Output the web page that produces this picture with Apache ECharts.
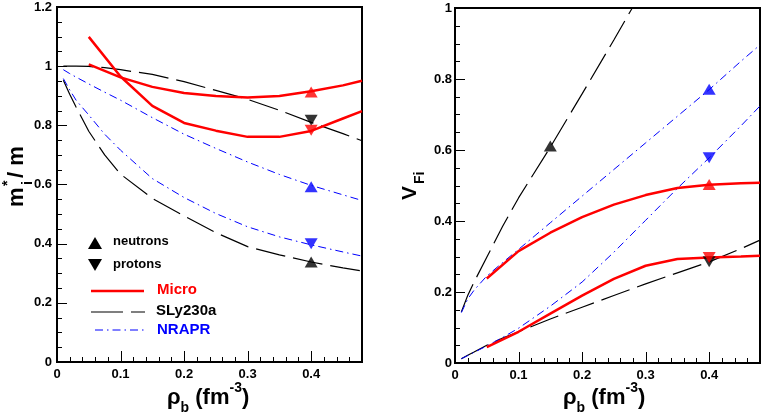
<!DOCTYPE html>
<html>
<head>
<meta charset="utf-8">
<script src="https://cdn.jsdelivr.net/npm/echarts@6/dist/echarts.min.js"></script>
<style>
  html, body { margin: 0; padding: 0; background: #fff; }
  #chart { width: 762px; height: 413px; }
</style>
</head>
<body>
<div id="chart"></div>
<script>
// baryon density grids (fm^-3)
const rhoMicro = [0.05, 0.1, 0.15, 0.2, 0.25, 0.3, 0.35, 0.4, 0.45, 0.48];
const rhoSky = [0.01, 0.02, 0.03, 0.05, 0.075, 0.1, 0.15, 0.2, 0.25, 0.3, 0.35, 0.4, 0.45, 0.48];
const rhoSlyFast = [0.01, 0.02, 0.03, 0.05, 0.075, 0.1, 0.15, 0.2, 0.25, 0.279];

// left panel : m*_i / m
const mMicroN = [1.006, 0.962, 0.930, 0.909, 0.899, 0.894, 0.899, 0.915, 0.935, 0.951];
const mMicroP = [1.099, 0.965, 0.866, 0.808, 0.782, 0.761, 0.761, 0.781, 0.823, 0.848];
const mSlyP = [1.0, 1.0, 1.0, 0.999, 0.995, 0.988, 0.972, 0.948, 0.918, 0.888, 0.851, 0.81, 0.772, 0.748];
const mSlyN = [0.952, 0.905, 0.862, 0.78, 0.70, 0.635, 0.553, 0.494, 0.437, 0.39, 0.362, 0.338, 0.318, 0.308];
const mNrN = [0.988, 0.975, 0.963, 0.94, 0.912, 0.885, 0.826, 0.77, 0.722, 0.676, 0.634, 0.597, 0.565, 0.546];
const mNrP = [0.958, 0.92, 0.885, 0.835, 0.77, 0.716, 0.62, 0.556, 0.502, 0.457, 0.423, 0.396, 0.372, 0.358];

// right panel : V_Fi
const vMicroN = [0.238, 0.315, 0.367, 0.411, 0.446, 0.473, 0.493, 0.502, 0.506, 0.508];
const vMicroP = [0.045, 0.088, 0.139, 0.19, 0.237, 0.274, 0.293, 0.297, 0.300, 0.302];
const vSlyN = [0.144, 0.19, 0.228, 0.298, 0.385, 0.465, 0.608, 0.758, 0.91, 1.0];
const vSlyP = [0.012, 0.022, 0.031, 0.05, 0.07, 0.088, 0.124, 0.157, 0.19, 0.223, 0.254, 0.285, 0.322, 0.346];
const vNrN = [0.142, 0.18, 0.205, 0.245, 0.283, 0.32, 0.395, 0.47, 0.545, 0.62, 0.695, 0.77, 0.85, 0.896];
const vNrP = [0.012, 0.021, 0.03, 0.048, 0.072, 0.098, 0.16, 0.228, 0.312, 0.402, 0.492, 0.578, 0.668, 0.724];

// triangle markers: [neutron (up), proton (down)]
const markRho = [0.4, 0.4];
const markRhoSlyR = [0.15, 0.4];
const microMarkL = [0.913, 0.783];
const slyMarkL = [0.338, 0.817];
const nrMarkL = [0.592, 0.400];
const microMarkR = [0.503, 0.297];
const slyMarkR = [0.611, 0.285];
const nrMarkR = [0.771, 0.578];

// tick labels
const xTicks = [0, 0.1, 0.2, 0.3, 0.4];

const FONT = '"Liberation Sans", Arial, Helvetica, sans-serif';
const RED = '#ff0000', BLUE = '#0000ff', BLACK = '#000000';
const DASH = [30, 8];
const DASHDOT = [8, 4, 1.5, 4];

function pairs(xs, ys) {
  return xs.map((x, i) => [x, ys[i]]);
}

function curve(xs, ys, color, width, type, panel) {
  return {
    type: 'line',
    xAxisIndex: panel,
    yAxisIndex: panel,
    data: pairs(xs, ys),
    showSymbol: false,
    symbol: 'none',
    lineStyle: { color: color, width: width, type: type },
    z: 3,
    silent: true
  };
}

function marks(xs, ys, color, panel) {
  return {
    type: 'scatter',
    xAxisIndex: panel,
    yAxisIndex: panel,
    symbol: 'triangle',
    symbolSize: [13, 11],
    itemStyle: { color: color },
    z: 5,
    silent: true,
    data: xs.map((x, i) => ({ value: [x, ys[i]], symbolRotate: i === 0 ? 0 : 180 }))
  };
}

function mainX(grid) {
  return {
    gridIndex: grid, type: 'value', min: 0, max: 0.48, interval: 0.1,
    axisLine: { show: true, onZero: false, lineStyle: { color: BLACK, width: 2 } },
    axisTick: { show: false },
    axisLabel: {
      color: BLACK, fontFamily: FONT, fontWeight: 'bold', fontSize: 13, margin: 6,
      showMaxLabel: false,
      formatter: v => (xTicks.some(t => Math.abs(t - v) < 1e-6) ? String(+v.toFixed(1)) : '')
    },
    splitLine: { show: false }
  };
}

function mainY(grid, max, margin) {
  return {
    gridIndex: grid, type: 'value', min: 0, max: max, interval: 0.2,
    axisLine: { show: true, onZero: false, lineStyle: { color: BLACK, width: 2 } },
    axisTick: { show: false },
    axisLabel: { color: BLACK, fontFamily: FONT, fontWeight: 'bold', fontSize: 13, margin: margin },
    splitLine: { show: false }
  };
}

function txt(x, y, text, size, color, align) {
  return {
    type: 'text', x: x, y: y, silent: true,
    style: {
      text: text, fill: color, font: 'bold ' + size + 'px ' + FONT,
      align: align || 'left', verticalAlign: 'middle',
      textAlign: align || 'left', textVerticalAlign: 'middle'
    }
  };
}

function seg(x1, y1, x2, y2, color, width, dash) {
  return {
    type: 'line', silent: true, z: 4,
    shape: { x1: x1, y1: y1, x2: x2, y2: y2 },
    style: { stroke: color, lineWidth: width, lineDash: dash || null }
  };
}

const richTitle = {
  t: { fontSize: 22, fontWeight: 'bold', fontFamily: FONT, fill: BLACK, lineHeight: 34 },
  sub: { fontSize: 14, fontWeight: 'bold', fontFamily: FONT, fill: BLACK, lineHeight: 14, verticalAlign: 'bottom' },
  sup: { fontSize: 14, fontWeight: 'bold', fontFamily: FONT, fill: BLACK, lineHeight: 14, verticalAlign: 'top' }
};

function rhoTitle(x) {
  return {
    type: 'text', x: x, y: 398, silent: true,
    style: {
      text: '{t|ρ}{sub|b}{t| (fm}{sup|-3}{t|)}',
      rich: richTitle,
      font: 'bold 22px ' + FONT, fill: BLACK,
      align: 'left', verticalAlign: 'middle', textAlign: 'left', textVerticalAlign: 'middle'
    }
  };
}

const chart = echarts.init(document.getElementById('chart'));

const gridBox = { width: 305, height: 355, outerBoundsMode: 'none', backgroundColor: 'transparent' };

chart.setOption({
  animation: false,
  backgroundColor: '#ffffff',
  grid: [
    Object.assign({ left: 57, top: 7, show: true, borderColor: BLACK, borderWidth: 2 }, gridBox),
    Object.assign({ left: 455, top: 8, show: true, borderColor: BLACK, borderWidth: 2 }, gridBox)
  ],
  xAxis: [mainX(0), mainX(1)],
  yAxis: [mainY(0, 1.2, 5), mainY(1, 1, 3)],
  series: [
    // left: effective masses
    curve(rhoSky, mSlyP, BLACK, 1.2, DASH, 0),
    curve(rhoSky, mSlyN, BLACK, 1.2, DASH, 0),
    curve(rhoSky, mNrN, BLUE, 1, DASHDOT, 0),
    curve(rhoSky, mNrP, BLUE, 1, DASHDOT, 0),
    curve(rhoMicro, mMicroN, RED, 2.5, 'solid', 0),
    curve(rhoMicro, mMicroP, RED, 2.5, 'solid', 0),
    marks(markRho, slyMarkL, BLACK, 0),
    marks(markRho, nrMarkL, BLUE, 0),
    marks(markRho, microMarkL, RED, 0),
    // right: Fermi velocities
    curve(rhoSlyFast, vSlyN, BLACK, 1.2, DASH, 1),
    curve(rhoSky, vSlyP, BLACK, 1.2, DASH, 1),
    curve(rhoSky, vNrN, BLUE, 1, DASHDOT, 1),
    curve(rhoSky, vNrP, BLUE, 1, DASHDOT, 1),
    curve(rhoMicro, vMicroN, RED, 2.5, 'solid', 1),
    curve(rhoMicro, vMicroP, RED, 2.5, 'solid', 1),
    marks(markRhoSlyR, slyMarkR, BLACK, 1),
    marks(markRho, nrMarkR, BLUE, 1),
    marks(markRho, microMarkR, RED, 1)
  ]
});

// inward ROOT-style ticks, placed through the axes' own scales
function frameTicks(grid, xMax, yMax) {
  const els = [];
  const at = (x, y) => chart.convertToPixel({ gridIndex: grid }, [x, y]);
  const o = at(0, 0);
  const nx = Math.round(xMax / 0.02);
  for (let k = 1; k < nx; k++) {
    const x = Math.round(at(k * 0.02, 0)[0]) + 0.5;
    els.push(seg(x, o[1], x, o[1] - (k % 5 === 0 ? 11 : 5), BLACK, 1));
  }
  const ny = Math.round(yMax / 0.05);
  for (let k = 1; k < ny; k++) {
    const y = Math.round(at(0, k * 0.05)[1]) + 0.5;
    els.push(seg(o[0], y, o[0] + (k % 4 === 0 ? 10 : 5), y, BLACK, 1));
  }
  return els;
}

const decor = [
  // axis titles
  rhoTitle(167),
  rhoTitle(563),
  {
    type: 'group', x: 17, y: 177, rotation: Math.PI / 2, silent: true,
    children: [
      txt(-30, 0, 'm', 22, BLACK),
      txt(-9, -8.5, '*', 14, BLACK),
      txt(-8, 11, 'i', 14, BLACK),
      txt(-1, 0, '/ m', 22, BLACK)
    ]
  },
  {
    type: 'group', x: 409.5, y: 185, rotation: Math.PI / 2, silent: true,
    children: [
      txt(-15, 1, 'V', 21, BLACK),
      txt(1, 11, 'Fi', 14, BLACK)
    ]
  },
  // legend
  { type: 'polygon', silent: true, shape: { points: [[88, 249], [102, 249], [95, 237]] }, style: { fill: BLACK } },
  { type: 'polygon', silent: true, shape: { points: [[88, 259], [102, 259], [95, 271]] }, style: { fill: BLACK } },
  txt(113, 241, 'neutrons', 13, BLACK),
  txt(113, 264, 'protons', 13, BLACK),
  seg(91, 291, 144, 291, RED, 2.5),
  txt(157, 290, 'Micro', 15, RED),
  seg(91, 312, 145, 312, BLACK, 1.2, [32, 8]),
  txt(156, 310.5, 'SLy230a', 15, BLACK),
  seg(95, 330, 147, 330, BLUE, 1, DASHDOT),
  txt(157, 329.5, 'NRAPR', 15, BLUE)
];

chart.setOption({
  graphic: decor.concat(frameTicks(0, 0.48, 1.2), frameTicks(1, 0.48, 1))
});
</script>
</body>
</html>
